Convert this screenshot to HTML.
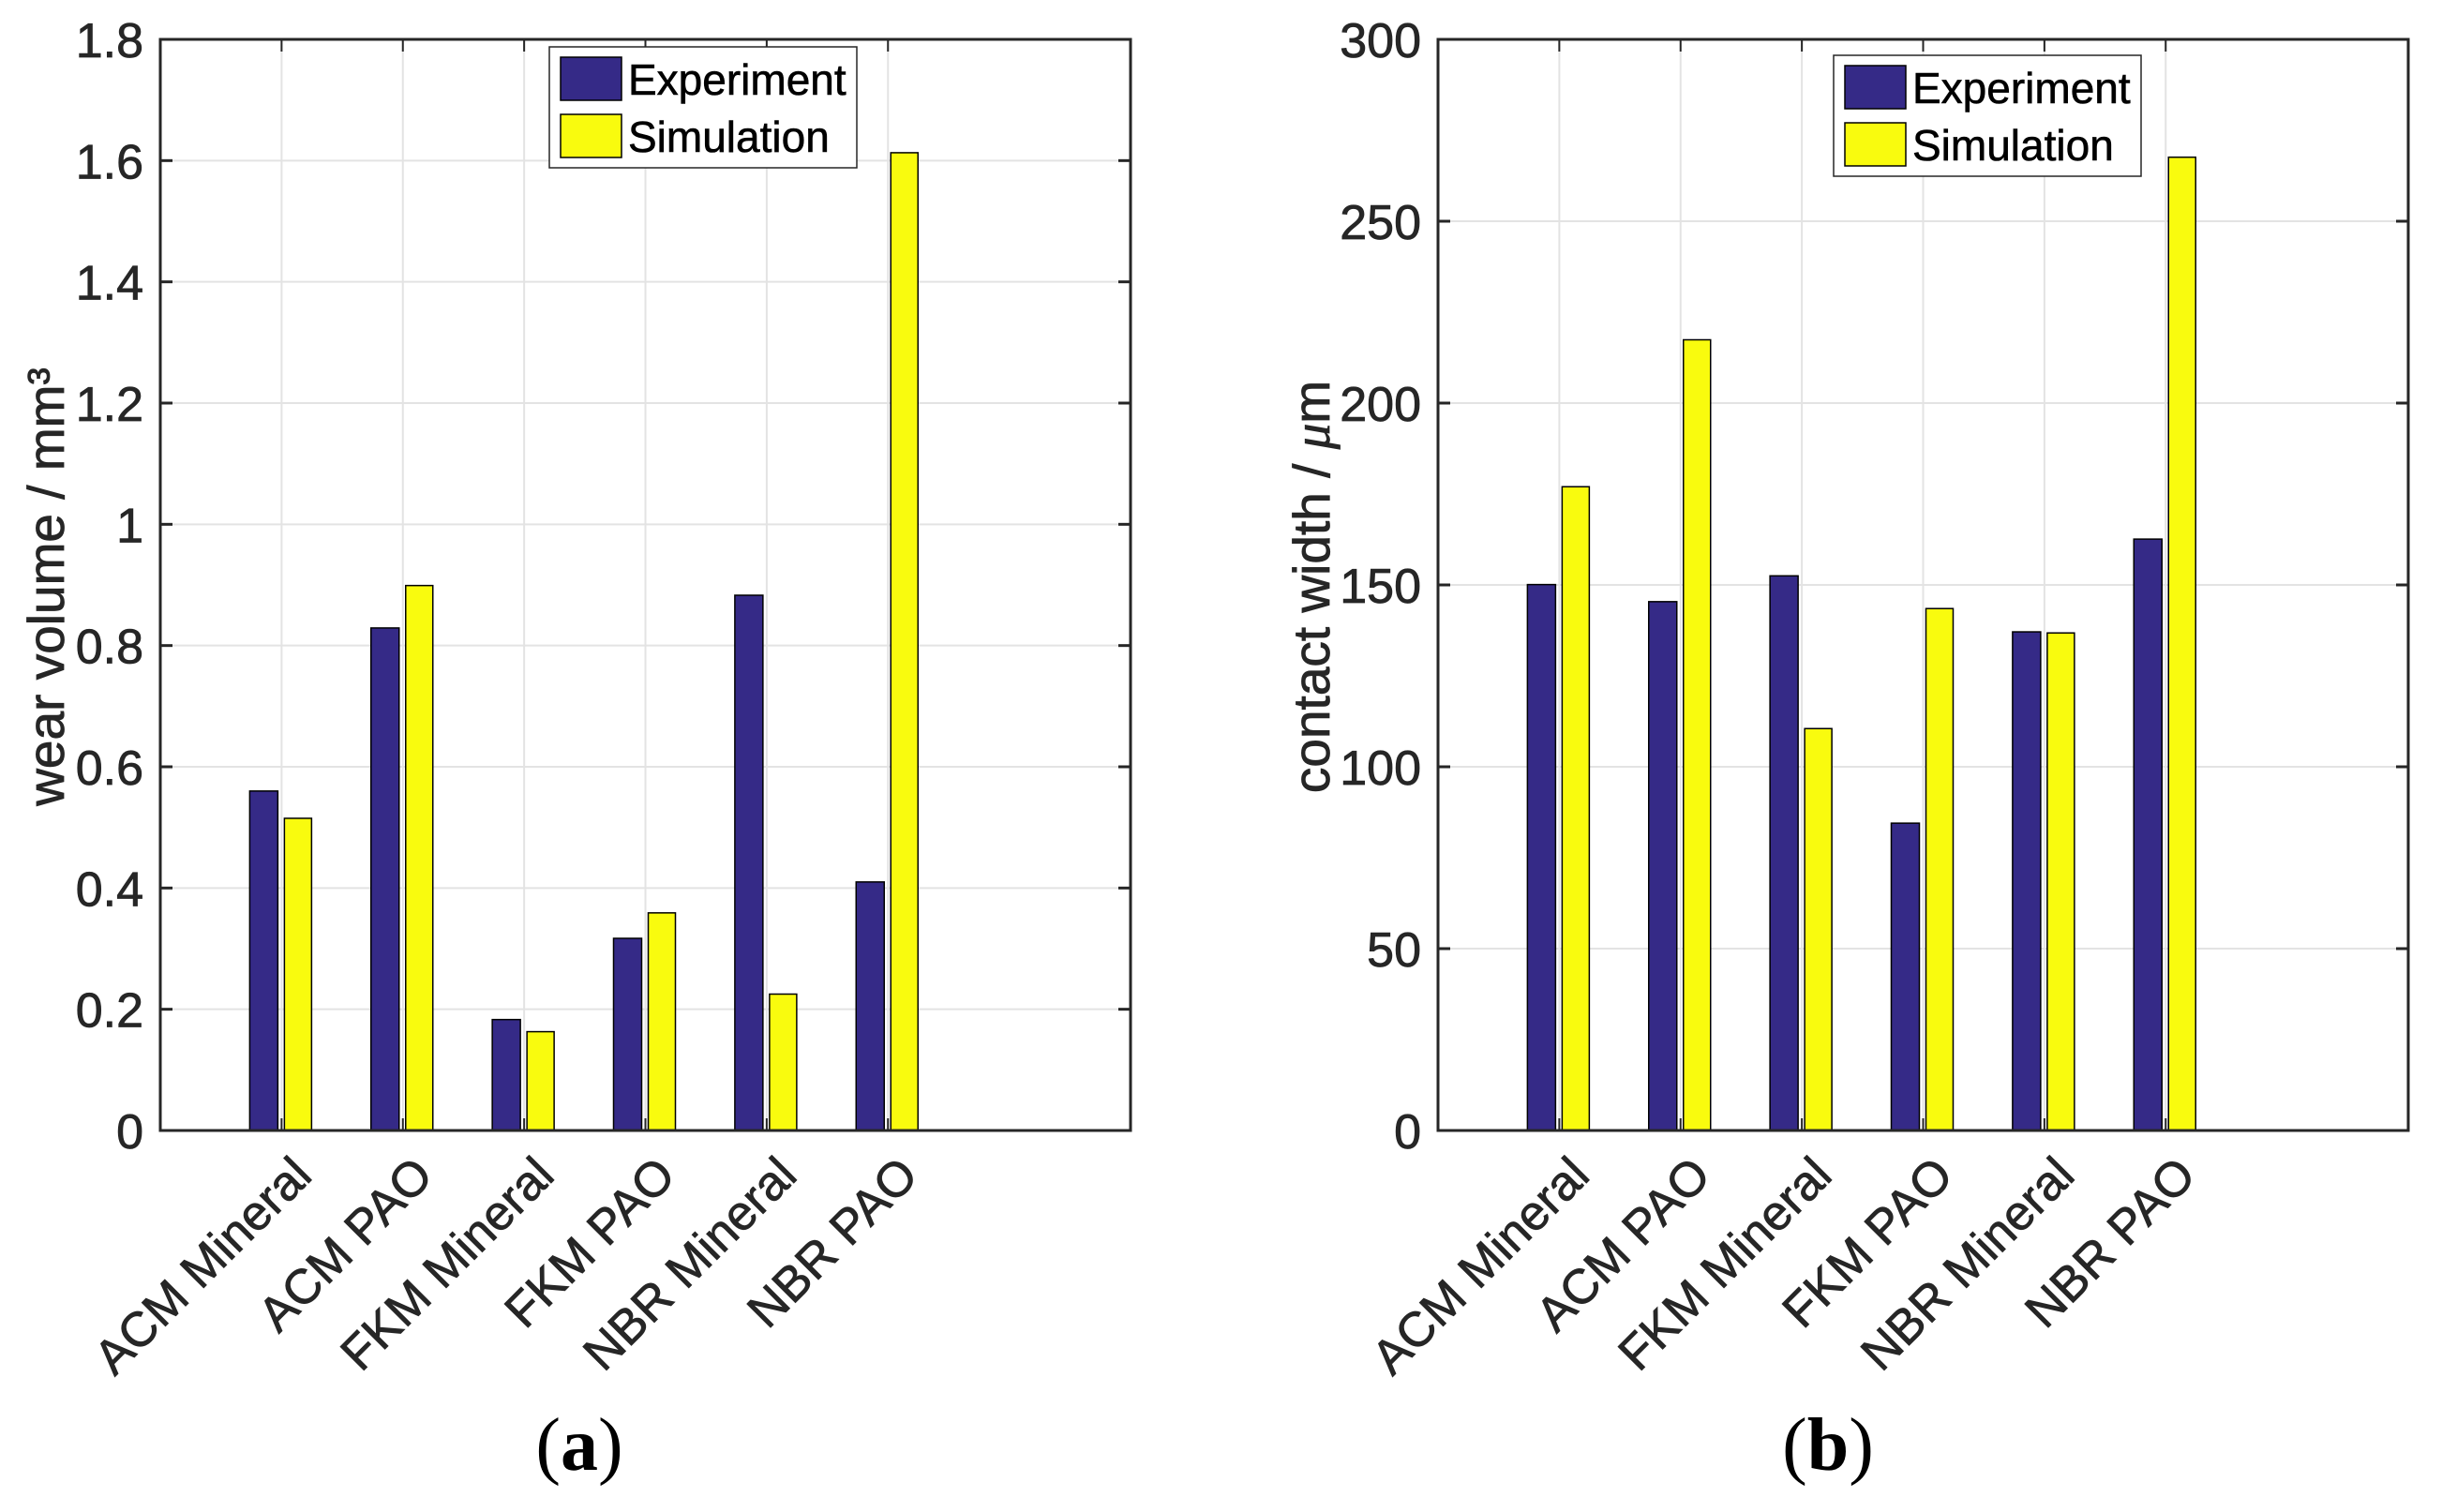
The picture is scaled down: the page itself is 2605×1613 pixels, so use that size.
<!DOCTYPE html>
<html><head><meta charset="utf-8"><style>
html,body{margin:0;padding:0;background:#fff;}
svg{display:block;font-family:"Liberation Sans",sans-serif;}
</style></head><body>
<svg id="fig" width="2605" height="1613" viewBox="0 0 2605 1613" xmlns="http://www.w3.org/2000/svg"></svg>
<script>
const categories = ["ACM Mineral","ACM PAO","FKM Mineral","FKM PAO","NBR Mineral","NBR PAO"];
const wearExperiment = [0.56,0.829,0.183,0.317,0.883,0.41];
const wearSimulation = [0.515,0.899,0.163,0.359,0.225,1.613];
const wearTicks = [0,0.2,0.4,0.6,0.8,1,1.2,1.4,1.6,1.8];
const wearTickLabels = ["0","0.2","0.4","0.6","0.8","1","1.2","1.4","1.6","1.8"];
const widthExperiment = [150.1,145.4,152.5,84.5,137.1,162.6];
const widthSimulation = [177,217.4,110.5,143.5,136.8,267.6];
const widthTicks = [0,50,100,150,200,250,300];
const widthTickLabels = ["0","50","100","150","200","250","300"];
const seriesNames = ["Experiment","Simulation"];

const NS="http://www.w3.org/2000/svg";
const svg=document.getElementById('fig');
function mk(tag,attrs,parent){const e=document.createElementNS(NS,tag);for(const k in attrs)e.setAttribute(k,attrs[k]);(parent||svg).appendChild(e);return e;}
const TXT={fill:'#262626',stroke:'#262626','stroke-width':0.8};

function panel(cfg){
  const g=mk('g',{});
  
  
  const L=cfg.left,R=cfg.left+1035,T=42,B=1206;
  const xs=i=>L+(i+1)*(R-L)/8;
  const ys=v=>B-(v-cfg.ymin)/(cfg.ymax-cfg.ymin)*(B-T);
  cfg.ticks.forEach(t=>{const l=mk('line',{x1:L,x2:R,y1:ys(t),y2:ys(t),stroke:'#e3e3e3','stroke-width':2},g);
    
    });
  categories.forEach((c,i)=>{const l=mk('line',{x1:xs(i),x2:xs(i),y1:T,y2:B,stroke:'#e3e3e3','stroke-width':2},g);
    
    });
  categories.forEach((c,i)=>{
    const cx=xs(i);
    const b1=mk('rect',{x:cx-34,y:ys(cfg.exp[i]),width:30,height:B-ys(cfg.exp[i]),fill:'#352a87',stroke:'#000','stroke-width':1.5},g);
    
    
    const b2=mk('rect',{x:cx+3,y:ys(cfg.sim[i]),width:29,height:B-ys(cfg.sim[i]),fill:'#f9fb0e',stroke:'#000','stroke-width':1.5},g);
    
    
  });
  const box=mk('rect',{x:L,y:T,width:R-L,height:B-T,fill:'none',stroke:'#262626','stroke-width':3},g);
  
  
  cfg.ticks.forEach((t,k)=>{
    mk('line',{x1:L,x2:L+13,y1:ys(t),y2:ys(t),stroke:'#262626','stroke-width':3},g);
    mk('line',{x1:R,x2:R-13,y1:ys(t),y2:ys(t),stroke:'#262626','stroke-width':3},g);
    const tx=mk('text',Object.assign({x:L-18,y:ys(t)+19,'text-anchor':'end','font-size':52},TXT),g);
    tx.textContent=cfg.labels[k];
    
    
  });
  categories.forEach((c,i)=>{
    const cx=xs(i);
    mk('line',{x1:cx,x2:cx,y1:B,y2:B-13,stroke:'#262626','stroke-width':2},g);
    mk('line',{x1:cx,x2:cx,y1:T,y2:T+13,stroke:'#262626','stroke-width':2},g);
    const tx=mk('text',Object.assign({transform:`translate(${cx+8},${1230}) rotate(-45)`,'text-anchor':'end','font-size':52,dy:'0.72em'},TXT),g);
    tx.textContent=c;
    
    
  });
  const yl=mk('text',Object.assign({transform:`translate(${cfg.ylx},${626}) rotate(-90)`,'text-anchor':'middle','font-size':55},TXT),g);
  yl.innerHTML=cfg.ylabel;
  
  
  const lg=mk('g',{},g);
  
  
  mk('rect',{x:cfg.lx,y:cfg.ly,width:328,height:129,fill:'#fff',stroke:'#262626','stroke-width':1.5},lg);
  const cols=['#352a87','#f9fb0e'];
  seriesNames.forEach((s,k)=>{
    const e=mk('g',{},lg);
    
    
    mk('rect',{x:cfg.lx+12,y:cfg.ly+11+k*61,width:65,height:46,fill:cols[k],stroke:'#000','stroke-width':1.5},e);
    const t=mk('text',{x:cfg.lx+84,y:cfg.ly+51+k*61,'font-size':46,fill:'#000',stroke:'#000','stroke-width':0.6},e);
    t.textContent=s;
  });
  const cap=mk('text',{x:cfg.capx,y:1568,'text-anchor':'middle','font-size':80,'font-family':'"Liberation Serif",serif',fill:'#000'},g);
  cap.innerHTML=`(<tspan font-weight="bold">${cfg.cap}</tspan>)`;
  
  
}

panel({name:'wear-volume-chart',left:171,ymin:0,ymax:1.8,ticks:wearTicks,labels:wearTickLabels,exp:wearExperiment,sim:wearSimulation,
  ylabel:'wear volume / mm³',ylx:68,lx:586,ly:50,capx:618,cap:'a'});
panel({name:'contact-width-chart',left:1534,ymin:0,ymax:300,ticks:widthTicks,labels:widthTickLabels,exp:widthExperiment,sim:widthSimulation,
  ylabel:'contact width / <tspan font-family="Liberation Serif,serif" font-style="italic">μ</tspan>m',ylx:1418,lx:1956,ly:59,capx:1950,cap:'b'});
</script>
</body></html>
